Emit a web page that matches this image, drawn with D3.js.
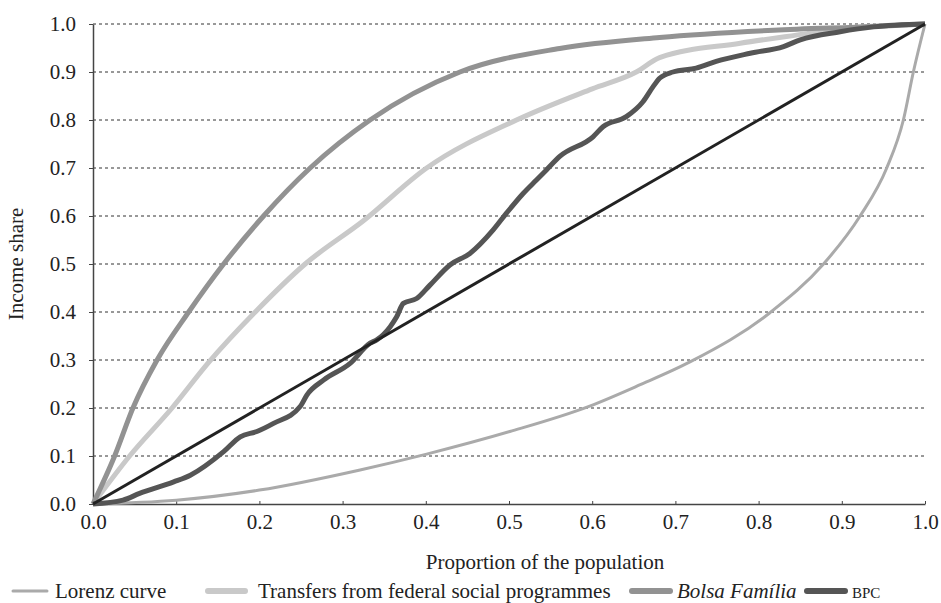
<!DOCTYPE html>
<html>
<head>
<meta charset="utf-8">
<script src="https://cdn.jsdelivr.net/npm/d3@7"></script>
<style>
  body { margin: 0; background: #fff; }
  svg text { font-family: "Liberation Serif", "Times New Roman", serif; fill: #222; }
</style>
</head>
<body>
<div id="chart"></div>
<script>
// values: proportion of population -> income share
var bolsaPop = [0, 0.026, 0.048, 0.077, 0.115, 0.157, 0.205, 0.261, 0.333, 0.441, 0.561, 0.681, 0.818, 0.94, 1.0];
var bolsa = [0, 0.1, 0.2, 0.3, 0.4, 0.5, 0.6, 0.7, 0.8, 0.9, 0.949, 0.972, 0.987, 0.995, 1.0];

var transfersPop = [0, 0.044, 0.095, 0.139, 0.195, 0.255, 0.325, 0.401, 0.509, 0.6, 0.653, 0.681, 0.778, 0.858, 0.898, 1.0];
var transfers = [0, 0.1, 0.2, 0.295, 0.4, 0.5, 0.59, 0.7, 0.8, 0.865, 0.9, 0.93, 0.96, 0.98, 0.99, 1.0];

var lorenzPop = [0, 0.1, 0.2, 0.321, 0.401, 0.501, 0.597, 0.657, 0.7175, 0.814, 0.878, 0.922, 0.954, 0.974, 0.986, 1.0];
var lorenz = [0, 0.008, 0.029, 0.071, 0.104, 0.151, 0.204, 0.248, 0.296, 0.399, 0.5, 0.6, 0.7, 0.8, 0.9, 1.0];

// BPC is step-like, so it gets finer points
var bpcPop = [0, 0.036, 0.056, 0.097, 0.117, 0.157, 0.177, 0.197, 0.217, 0.249, 0.257, 0.277, 0.309, 0.333, 0.341, 0.357, 0.365, 0.373, 0.389, 0.405, 0.429, 0.453, 0.481, 0.497, 0.517, 0.533, 0.545, 0.561, 0.601, 0.613, 0.641, 0.661, 0.673, 0.681, 0.697, 0.725, 0.749, 0.79, 0.83, 0.85, 0.898, 0.938, 1.0];
var bpc = [0, 0.008, 0.022, 0.046, 0.06, 0.109, 0.14, 0.151, 0.168, 0.203, 0.227, 0.258, 0.293, 0.335, 0.342, 0.369, 0.39, 0.418, 0.428, 0.456, 0.498, 0.522, 0.571, 0.606, 0.647, 0.675, 0.696, 0.724, 0.765, 0.786, 0.807, 0.838, 0.869, 0.887, 0.9, 0.908, 0.922, 0.939, 0.953, 0.967, 0.984, 0.994, 1.0];

var equality = [0, 1];

var yTicks = [0, 0.1, 0.2, 0.3, 0.4, 0.5, 0.6, 0.7, 0.8, 0.9, 1.0];
var xTicks = [0, 0.1, 0.2, 0.3, 0.4, 0.5, 0.6, 0.7, 0.8, 0.9, 1.0];

var width = 941, height = 603;
var margin = {top: 24, right: 16, bottom: 99, left: 93};
var w = width - margin.left - margin.right;
var h = height - margin.top - margin.bottom;

var svg = d3.select('#chart').append('svg')
    .attr('width', width)
    .attr('height', height);

var g = svg.append('g')
    .attr('transform', 'translate(' + margin.left + ',' + margin.top + ')');

var x = d3.scaleLinear().domain([0, 1]).range([0, w]);
var y = d3.scaleLinear().domain([0, 1]).range([h, 0]);

// dashed grid lines
g.selectAll('.grid')
    .data(yTicks.filter(function(d) { return d > 0; }))
    .enter().append('line')
    .attr('x1', 0).attr('x2', w)
    .attr('y1', function(d) { return y(d); })
    .attr('y2', function(d) { return y(d); })
    .attr('stroke', '#333')
    .attr('stroke-width', 1)
    .attr('stroke-dasharray', '3,3');

// axes
var yAxis = g.append('g')
    .call(d3.axisLeft(y).tickValues(yTicks).tickFormat(d3.format('.1f')).tickSize(4).tickSizeOuter(0));
var xAxis = g.append('g')
    .attr('transform', 'translate(0,' + h + ')')
    .call(d3.axisBottom(x).tickValues(xTicks).tickFormat(d3.format('.1f')).tickSizeInner(-3).tickSizeOuter(0));

[yAxis, xAxis].forEach(function(a) {
  a.select('.domain').attr('stroke', '#444').attr('stroke-width', 1.5);
  a.selectAll('.tick line').attr('stroke', '#444');
  a.selectAll('.tick text')
    .style('font-family', '"Liberation Serif", serif')
    .style('font-size', '21px')
    .attr('fill', '#222');
});
yAxis.selectAll('.tick text').attr('x', -17);
xAxis.selectAll('.tick text').attr('y', 10);

function line(xs) {
  return d3.line()
    .x(function(d, i) { return x(xs[i]); })
    .y(function(d) { return y(d); })
    .curve(d3.curveMonotoneX);
}

var series = [
  {xs: lorenzPop, ys: lorenz, color: '#aaaaaa', sw: 3},
  {xs: transfersPop, ys: transfers, color: '#c9c9c9', sw: 5},
  {xs: bolsaPop, ys: bolsa, color: '#929292', sw: 5},
  {xs: bpcPop, ys: bpc, color: '#555555', sw: 5},
  {xs: equality, ys: equality, color: '#222222', sw: 3}
];

series.forEach(function(s) {
  g.append('path')
    .datum(s.ys)
    .attr('fill', 'none')
    .attr('stroke', s.color)
    .attr('stroke-width', s.sw)
    .attr('stroke-linejoin', 'round')
    .attr('d', line(s.xs));
});

// axis titles
svg.append('text')
    .attr('x', 545)
    .attr('y', 569)
    .attr('text-anchor', 'middle')
    .style('font-size', '21px')
    .text('Proportion of the population');

svg.append('text')
    .attr('transform', 'translate(23,' + (margin.top + h / 2) + ') rotate(-90)')
    .attr('text-anchor', 'middle')
    .style('font-size', '21px')
    .text('Income share');

// legend
var legend = [
  {label: 'Lorenz curve', color: '#aaaaaa', sw: 3, x: 13, len: 34, tx: 55},
  {label: 'Transfers from federal social programmes', color: '#c9c9c9', sw: 6, x: 208, len: 37, tx: 258},
  {label: 'Bolsa Família', color: '#929292', sw: 6, x: 632, len: 38, tx: 677, italic: true},
  {label: 'BPC', color: '#555555', sw: 6, x: 807, len: 38, tx: 852, small: true}
];
var lg = svg.append('g').attr('transform', 'translate(0,591)');
legend.forEach(function(d) {
  lg.append('line')
    .attr('x1', d.x).attr('x2', d.x + d.len)
    .attr('y1', 0).attr('y2', 0)
    .attr('stroke', d.color)
    .attr('stroke-width', d.sw)
    .attr('stroke-linecap', 'round');
  lg.append('text')
    .attr('x', d.tx)
    .attr('y', 7)
    .style('font-size', d.small ? '15px' : '21px')
    .style('font-style', d.italic ? 'italic' : 'normal')
    .text(d.label);
});
</script>
</body>
</html>
